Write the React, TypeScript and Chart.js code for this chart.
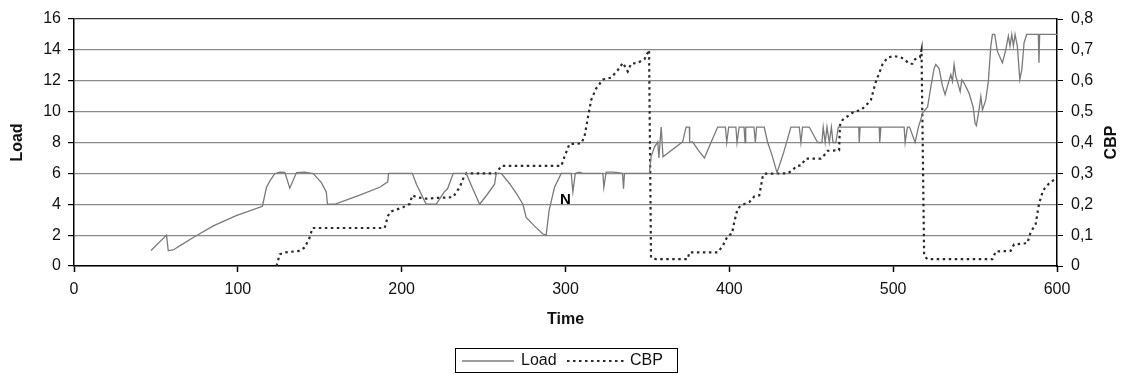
import React, { useEffect, useRef } from 'react';
import { Chart, registerables } from 'chart.js';

Chart.register(...registerables);

const loadTime = [
  47, 56.5, 57.5, 60.5, 66, 72.8, 85, 99, 115, 117.5, 119.5, 122.5, 125.6, 128.7, 131.7, 135.8, 140.8, 146,
  151, 154, 154.7, 159, 174, 186.6, 191.5, 192, 206.5, 209, 215, 221, 226, 228, 231.5, 239.4, 243, 247.6,
  252, 256.7, 257.7, 260.8, 265.9, 270, 274, 276, 281, 286.2, 288.2, 290, 293.3, 297.4, 303.5, 304.5, 306,
  308.5, 310.6, 322.8, 323.4, 324.8, 328.8, 332, 334.8, 335.4, 336, 351.2, 352.2, 354.3, 356.3, 357, 358.4,
  359.5, 371.5, 373.6, 375.6, 375.8, 377.6, 381, 384.8, 388.8, 392.9, 397.6, 398.4, 399.6, 404, 404.7, 406,
  409, 409.6, 410, 415, 415.9, 416.6, 421.3, 423.4, 426, 429.1, 433, 437.6, 442.7, 443.7, 444.7, 448.8,
  453.9, 456.5, 457.3, 458.5, 459.6, 461, 462.3, 463.3, 465, 466.5, 479, 479.3, 479.8, 491.5, 491.8, 492.5,
  506.7, 507.3, 508.7, 510, 513.4, 515.4, 516.9, 517.9, 521, 523, 525, 526, 528, 530, 531.7, 533, 535.2,
  536.2, 537.2, 538.2, 539.2, 540.9, 541.9, 543.3, 546.3, 548.8, 550, 550.8, 552.4, 553.5, 554.5, 556.5,
  558.1, 559.6, 560.6, 562, 563.6, 566.7, 568.7, 570.3, 571.3, 572.4, 573.4, 574.4, 575.8, 577.3, 578.5,
  579.9, 581.5, 588.6, 589, 589.4, 600,
];
const loadValue = [
  1, 2, 1, 1.04, 1.4, 1.85, 2.6, 3.26, 3.87, 5.1, 5.5, 5.98, 6.08, 6.07, 5.04, 6.05, 6.08, 5.98,
  5.4, 4.8, 4.0, 4.0, 4.57, 5.1, 5.45, 6.0, 6.0, 5.3, 4.0, 4.0, 4.8, 5.0, 6.0, 6.0, 5.1, 4.0,
  4.6, 5.3, 6.0, 6.0, 5.33, 4.7, 4.0, 3.15, 2.6, 2.07, 2.0, 3.6, 5.1, 6.0, 6.0, 4.8, 6.0,
  6.08, 6.0, 6.0, 5.1, 6.08, 6.08, 6.05, 6.0, 5.0, 6.0, 6.0, 7.07, 7.7, 8.04, 7.0, 9.0,
  7.07, 8.04, 9.0, 9.0, 8.0, 8.04, 7.5, 7.0, 8.0, 9.0, 9.0, 8.0, 9.0, 9.0, 8.0, 9.0,
  9.0, 8.0, 9.0, 9.0, 8.0, 9.0, 9.0, 8.0, 7.2, 6.05, 7.3, 9.0, 9.0, 8.0, 9.0, 9.0,
  8.0, 8.0, 9.0, 8.0, 9.0, 8.0, 9.0, 8.0, 8.0, 9.0, 9.0, 8.0, 9.0, 9.0, 8.0, 9.0,
  9.0, 8.0, 9.0, 9.0, 8.0, 9.0, 9.5, 9.9, 10.3, 11.6, 12.8, 13.05, 12.8, 11.7, 11.1, 11.6, 12.4,
  11.96, 13.05, 12.3, 11.96, 11.3, 12.07, 11.85, 11.2, 10.3, 9.25, 9.1, 10.1, 10.98, 10.1, 10.76,
  11.96, 14.24, 15.0, 15.0, 13.9, 13.16, 14.0, 14.9, 14.24, 15.0, 14.24, 15.0, 14.24, 12.07, 12.7,
  14.46, 15.0, 15.0, 13.16, 15.0, 15.0,
];

const cbpTime = [
  123.6, 125.6, 128.7, 137.8, 140.8, 143.9, 145.5, 189.6, 191.7, 193.7, 200.8, 204.9, 206.5, 209, 215, 220,
  231.3, 235.4, 238.4, 239.4, 257.7, 260.8, 297.4, 299.4, 302.4, 309.6, 311.6, 313.6, 315.7, 318.7, 322.8,
  327.9, 332, 335, 338, 340, 344.1, 348.2, 351, 352.2, 355.3, 374.6, 375.6, 392.9, 396, 399, 401.6, 403,
  405, 407.1, 412.2, 415.2, 418.3, 420.3, 421.3, 435.5, 438.6, 440.7, 443.7, 446.7, 455.9, 457.9, 459.9,
  467, 467.5, 469.1, 473.2, 476.2, 480.3, 483.4, 486.4, 489.5, 491.5, 493.5, 496.5, 500.6, 504.7, 506.7,
  509.8, 511.8, 513.4, 516.3, 517.3, 518.9, 521, 560.6, 562.6, 571.7, 573.8, 581.9, 583.9, 587, 589,
  591.5, 595.1, 599.2,
];
const cbpValue = [
  0, 0.038, 0.044, 0.049, 0.06, 0.093, 0.123, 0.123, 0.163, 0.177, 0.19, 0.201, 0.229, 0.223, 0.218, 0.22,
  0.223, 0.255, 0.294, 0.3, 0.3, 0.324, 0.324, 0.354, 0.395, 0.397, 0.419, 0.479, 0.538, 0.575, 0.604,
  0.61, 0.635, 0.658, 0.63, 0.655, 0.658, 0.67, 0.7, 0.027, 0.022, 0.022, 0.044, 0.044, 0.065, 0.098, 0.104, 0.142,
  0.185, 0.196, 0.207, 0.225, 0.229, 0.288, 0.299, 0.3, 0.31, 0.323, 0.326, 0.348, 0.348, 0.359, 0.373,
  0.375, 0.455, 0.473, 0.489, 0.5, 0.505, 0.52, 0.538, 0.598, 0.625, 0.653, 0.675, 0.68, 0.675, 0.67,
  0.655, 0.655, 0.67, 0.675, 0.7, 0.033, 0.022, 0.022, 0.047, 0.049, 0.07, 0.074, 0.109, 0.136, 0.201,
  0.245, 0.267, 0.283,
];

const loadTickLabels = ['0', '2', '4', '6', '8', '10', '12', '14', '16'];
const cbpTickLabels = ['0', '0,1', '0,2', '0,3', '0,4', '0,5', '0,6', '0,7', '0,8'];
const timeTickLabels = ['0', '100', '200', '300', '400', '500', '600'];
const seriesNames = ['Load', 'CBP'];
const axisTitles = { x: 'Time', y: 'Load', y1: 'CBP' };
const noteText = 'N';
const noteAt = { x: 300, y: 4.3 };

const FONT = '"Liberation Sans", Arial, Helvetica, sans-serif';
const LOAD_COLOR = '#7a7a7a';
const CBP_COLOR = '#2a2a2a';
const CBP_DASH = [2.5, 3.5];

export default function App() {
  const ref = useRef<HTMLCanvasElement>(null);

  useEffect(() => {
    const extras = {
      id: 'extras',
      afterDraw(chart: any) {
        const ctx = chart.ctx as CanvasRenderingContext2D;
        const ca = chart.chartArea;
        ctx.save();
        ctx.fillStyle = '#111';
        ctx.font = `bold 16px ${FONT}`;
        ctx.textAlign = 'center';
        ctx.textBaseline = 'middle';
        ctx.translate(1112, (ca.top + ca.bottom) / 2);
        ctx.rotate(-Math.PI / 2);
        ctx.fillText(axisTitles.y1, 0, 0);
        ctx.restore();

        ctx.save();
        const nx = chart.scales.x.getPixelForValue(noteAt.x);
        const ny = chart.scales.y.getPixelForValue(noteAt.y);
        ctx.fillStyle = '#000';
        ctx.font = `bold 15px ${FONT}`;
        ctx.textAlign = 'center';
        ctx.textBaseline = 'middle';
        ctx.fillText(noteText, nx, ny);
        ctx.restore();

        ctx.save();
        const bx = 455, by = 348, bw = 222, bh = 24;
        ctx.fillStyle = '#fff';
        ctx.fillRect(bx, by, bw, bh);
        ctx.strokeStyle = '#000';
        ctx.lineWidth = 1;
        ctx.strokeRect(bx + 0.5, by + 0.5, bw, bh);
        const my = by + bh / 2 + 1;
        ctx.font = `16px ${FONT}`;
        ctx.textBaseline = 'middle';
        ctx.textAlign = 'left';
        ctx.fillStyle = '#111';
        ctx.strokeStyle = LOAD_COLOR;
        ctx.lineWidth = 1.3;
        ctx.beginPath();
        ctx.moveTo(462, my);
        ctx.lineTo(514, my);
        ctx.stroke();
        ctx.fillText(seriesNames[0], 521, my);
        ctx.strokeStyle = CBP_COLOR;
        ctx.lineWidth = 2;
        ctx.setLineDash(CBP_DASH);
        ctx.beginPath();
        ctx.moveTo(567, my);
        ctx.lineTo(627, my);
        ctx.stroke();
        ctx.setLineDash([]);
        ctx.fillText(seriesNames[1], 630, my);
        ctx.restore();
      },
    };

    const chart = new Chart(ref.current!, {
      type: 'line',
      data: {
        datasets: [
          {
            label: seriesNames[0],
            data: loadTime.map((t, i) => ({ x: t, y: loadValue[i] })),
            yAxisID: 'y',
            borderColor: LOAD_COLOR,
            borderWidth: 1.3,
            pointRadius: 0,
            tension: 0,
            fill: false,
          },
          {
            label: seriesNames[1],
            data: cbpTime.map((t, i) => ({ x: t, y: cbpValue[i] })),
            yAxisID: 'y1',
            borderColor: CBP_COLOR,
            borderWidth: 2.2,
            borderDash: CBP_DASH,
            pointRadius: 0,
            tension: 0,
            fill: false,
          },
        ],
      },
      options: {
        responsive: false,
        animation: false,
        layout: { padding: { top: 19, left: 0, right: 0, bottom: 0 } },
        plugins: { legend: { display: false }, tooltip: { enabled: false } },
        scales: {
          x: {
            type: 'linear',
            min: 0,
            max: 600,
            ticks: {
              stepSize: 100,
              maxRotation: 0,
              padding: 8,
              color: '#111',
              font: { family: FONT, size: 16 },
              callback: (v: any) => timeTickLabels[Math.round(v / 100)] ?? '',
            },
            grid: { drawOnChartArea: false, drawTicks: true, tickLength: 6, tickColor: '#000', tickWidth: 1.5 },
            border: { display: true, color: '#000', width: 1.5 },
            title: {
              display: true,
              text: axisTitles.x,
              color: '#111',
              font: { family: FONT, size: 16, weight: 'bold' },
              padding: { top: 0, bottom: 45 },
            },
            afterFit: (s: any) => { s.height = 108; },
          },
          y: {
            position: 'left',
            min: 0,
            max: 16,
            ticks: {
              stepSize: 2,
              padding: 7,
              color: '#111',
              font: { family: FONT, size: 16 },
              callback: (v: any) => loadTickLabels[Math.round(v / 2)] ?? '',
            },
            grid: {
              color: (c: any) => (c.tick && c.tick.value === 16 ? '#333' : '#8a8a8a'),
              lineWidth: 1.2,
              tickLength: 6,
              tickColor: '#000',
            },
            border: { display: true, color: '#000', width: 1.5 },
            title: {
              display: true,
              text: axisTitles.y,
              color: '#111',
              font: { family: FONT, size: 16, weight: 'bold' },
              padding: { top: 8, bottom: 0 },
            },
            afterFit: (s: any) => { s.width = 74; },
          },
          y1: {
            position: 'right',
            min: 0,
            max: 0.8,
            ticks: {
              stepSize: 0.1,
              padding: 8,
              color: '#111',
              font: { family: FONT, size: 16 },
              callback: (v: any) => cbpTickLabels[Math.round(v * 10)] ?? '',
            },
            grid: { drawOnChartArea: false, drawTicks: true, tickLength: 6, tickColor: '#000' },
            border: { display: true, color: '#000', width: 1.5 },
            afterFit: (s: any) => { s.width = 64; },
          },
        },
      } as any,
      plugins: [extras],
    });
    return () => chart.destroy();
  }, []);

  return (
    <div style={{ position: 'absolute', left: 0, top: 0, width: 1121, height: 374, background: '#fff' }}>
      <canvas ref={ref} width={1121} height={374} style={{ width: 1121, height: 374, display: 'block' }} />
    </div>
  );
}
